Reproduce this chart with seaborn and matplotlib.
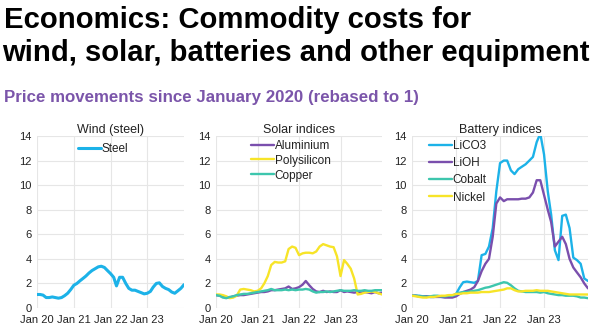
import matplotlib
matplotlib.use("Agg")
import matplotlib.pyplot as plt
import seaborn as sns
import pandas as pd
import numpy as np

dates = pd.date_range("2020-01-01", "2024-01-01", freq="MS")

steel = [1.1, 1.1, 1.05, 0.85, 0.85, 0.9, 0.85, 0.8, 0.85, 1.0, 1.2, 1.5,
         1.85, 2.0, 2.2, 2.4, 2.6, 2.85, 3.05, 3.2, 3.35, 3.4, 3.3, 3.05,
         2.8, 2.5, 1.8, 2.5, 2.5, 2.0, 1.6, 1.45, 1.45, 1.35, 1.25, 1.15,
         1.2, 1.35, 1.7, 2.0, 2.05, 1.75, 1.6, 1.5, 1.3, 1.2, 1.4, 1.6, 1.9]

aluminium = [1.05, 1.0, 0.95, 0.85, 0.85, 0.95, 1.0, 1.05, 1.05, 1.1, 1.15, 1.2,
             1.25, 1.3, 1.3, 1.35, 1.45, 1.45, 1.5, 1.55, 1.6, 1.75, 1.55, 1.6,
             1.7, 1.9, 2.2, 1.85, 1.55, 1.35, 1.3, 1.4, 1.3, 1.35, 1.3, 1.3,
             1.45, 1.3, 1.35, 1.3, 1.25, 1.3, 1.25, 1.3, 1.25, 1.2, 1.3, 1.2, 1.25]
polysilicon = [1.1, 1.1, 1.05, 0.95, 0.8, 0.85, 1.0, 1.5, 1.55, 1.5, 1.45, 1.35,
               1.4, 1.6, 2.0, 2.6, 3.5, 3.75, 3.7, 3.7, 3.8, 4.8, 5.0, 4.9,
               4.3, 4.45, 4.5, 4.5, 4.45, 4.6, 5.0, 5.2, 5.1, 5.0, 4.95, 4.2,
               2.6, 3.9, 3.6, 3.2, 2.4, 1.1, 1.15, 1.25, 1.3, 1.35, 1.3, 1.2, 1.1]
copper = [1.05, 1.0, 0.85, 0.8, 0.9, 0.95, 1.05, 1.1, 1.15, 1.15, 1.2, 1.25,
          1.3, 1.35, 1.4, 1.45, 1.55, 1.45, 1.45, 1.45, 1.5, 1.45, 1.5, 1.45,
          1.5, 1.5, 1.55, 1.5, 1.35, 1.25, 1.3, 1.3, 1.35, 1.3, 1.35, 1.4,
          1.45, 1.4, 1.4, 1.4, 1.45, 1.4, 1.4, 1.45, 1.4, 1.4, 1.45, 1.45, 1.45]

lico3 = [1.0, 1.0, 1.0, 0.95, 0.95, 0.9, 0.9, 0.95, 0.9, 0.9, 0.95, 1.0,
         1.15, 1.7, 2.1, 2.15, 2.1, 2.05, 2.2, 4.3, 4.4, 5.0, 6.5, 9.5,
         11.8, 12.0, 12.0, 11.2, 10.9, 11.3, 11.5, 11.7, 12.0, 12.3, 13.5, 14.2,
         12.5, 9.5, 7.6, 4.7, 3.9, 7.5, 7.6, 6.5, 4.1, 3.9, 3.6, 2.4, 2.2]
lioh = [1.0, 1.0, 0.95, 0.95, 0.95, 0.9, 0.9, 0.9, 0.9, 0.85, 0.85, 0.85,
        0.95, 1.15, 1.3, 1.4, 1.5, 1.7, 2.2, 3.0, 3.6, 4.0, 5.8, 8.5,
        9.0, 8.7, 8.85, 8.85, 8.85, 8.85, 8.9, 8.9, 9.0, 9.4, 10.4, 10.4,
        9.2, 8.0, 7.0, 5.0, 5.4, 5.8, 5.2, 4.0, 3.3, 2.9, 2.5, 2.0, 1.6]
cobalt = [1.0, 1.0, 0.95, 0.95, 0.9, 0.95, 1.0, 1.0, 0.95, 0.95, 1.0, 1.0,
          1.1, 1.25, 1.3, 1.3, 1.35, 1.4, 1.45, 1.55, 1.65, 1.7, 1.8, 1.9,
          2.0, 2.1, 2.05, 1.85, 1.6, 1.4, 1.35, 1.3, 1.3, 1.3, 1.3, 1.25,
          1.3, 1.2, 1.15, 1.1, 1.05, 1.05, 1.0, 1.0, 1.0, 0.95, 0.85, 0.85, 0.8]
nickel = [1.0, 0.95, 0.9, 0.85, 0.85, 0.9, 0.9, 0.95, 1.0, 1.0, 1.05, 1.05,
          1.15, 1.15, 1.2, 1.2, 1.25, 1.25, 1.25, 1.3, 1.3, 1.3, 1.35, 1.4,
          1.45, 1.5, 1.6, 1.6, 1.45, 1.35, 1.35, 1.4, 1.4, 1.4, 1.45, 1.4,
          1.4, 1.4, 1.35, 1.3, 1.25, 1.2, 1.15, 1.1, 1.1, 1.1, 1.1, 1.1, 1.1]

panel_titles = ["Wind (steel)", "Solar indices", "Battery indices"]
year_ticks = ["Jan 20", "Jan 21", "Jan 22", "Jan 23"]
y_ticks = [0, 2, 4, 6, 8, 10, 12, 14]

BLUE = "#1cb2e8"
PURPLE = "#7a4fad"
YELLOW = "#f7e428"
TEAL = "#3dc6ad"

panels = [
    ({"Steel": steel}, {"Steel": BLUE}),
    ({"Aluminium": aluminium, "Polysilicon": polysilicon, "Copper": copper},
     {"Aluminium": PURPLE, "Polysilicon": YELLOW, "Copper": TEAL}),
    ({"LiCO3": lico3, "LiOH": lioh, "Cobalt": cobalt, "Nickel": nickel},
     {"LiCO3": BLUE, "LiOH": PURPLE, "Cobalt": TEAL, "Nickel": YELLOW}),
]

sns.set_style("white")
plt.rcParams["font.family"] = ["Liberation Sans", "DejaVu Sans"]

fig = plt.figure(figsize=(6.0, 3.28), dpi=100)

positions = [
    (37 / 600, 20 / 328, 147 / 600, 172 / 328),
    (216 / 600, 20 / 328, 166 / 600, 172 / 328),
    (412 / 600, 20 / 328, 176 / 600, 172 / 328),
]
legend_anchor = [(0.45, 1.0), (0.45, 1.02), (0.26, 1.02)]
legend_spacing = [0.3, 0.25, 0.45]

for i, ((series, pal), pos) in enumerate(zip(panels, positions)):
    ax = fig.add_axes(pos)
    df = pd.DataFrame({"date": np.tile(dates, len(series)),
                       "value": np.concatenate([v for v in series.values()]),
                       "series": np.repeat(list(series.keys()), len(dates))})
    sns.lineplot(data=df, x="date", y="value", hue="series", palette=pal,
                 hue_order=list(series.keys()), ax=ax,
                 linewidth=2.2 if i == 0 else 1.7)
    ax.set_xlim(pd.Timestamp("2020-01-01"), pd.Timestamp("2024-01-01"))
    ax.set_ylim(0, 14)
    ax.set_yticks(y_ticks)
    ax.set_xticks([pd.Timestamp(f"20{y}-01-01") for y in range(20, 24)])
    ax.set_xticklabels(year_ticks)
    ax.grid(True, color="#e6e6e6", linewidth=0.8)
    for s in ax.spines.values():
        s.set_visible(False)
    ax.tick_params(axis="both", length=0, labelsize=8, colors="#222222")
    ax.tick_params(axis="x", pad=5)
    ax.tick_params(axis="y", pad=4)
    ax.set_xlabel("")
    ax.set_ylabel("")
    ax.set_title(panel_titles[i], fontsize=9, pad=2, color="#222222")
    leg = ax.legend(loc="upper center", bbox_to_anchor=legend_anchor[i], frameon=False,
                    fontsize=8.5, handlelength=2.0, handletextpad=0.05,
                    labelspacing=legend_spacing[i], borderaxespad=0.2)
    for t in leg.get_texts():
        t.set_color("#222222")

fig.text(4 / 600, 1 - 28 / 328, "Economics: Commodity costs for",
         fontsize=21.1, fontweight="bold", va="baseline", ha="left", color="black")
fig.text(2 / 600, 1 - 61 / 328, "wind, solar, batteries and other equipment",
         fontsize=21.1, fontweight="bold", va="baseline", ha="left", color="black")
fig.text(4 / 600, 1 - 102 / 328, "Price movements since January 2020 (rebased to 1)",
         fontsize=12.2, fontweight="bold", va="baseline", ha="left", color="#7b55aa")

fig.savefig("out.png", dpi=100)
